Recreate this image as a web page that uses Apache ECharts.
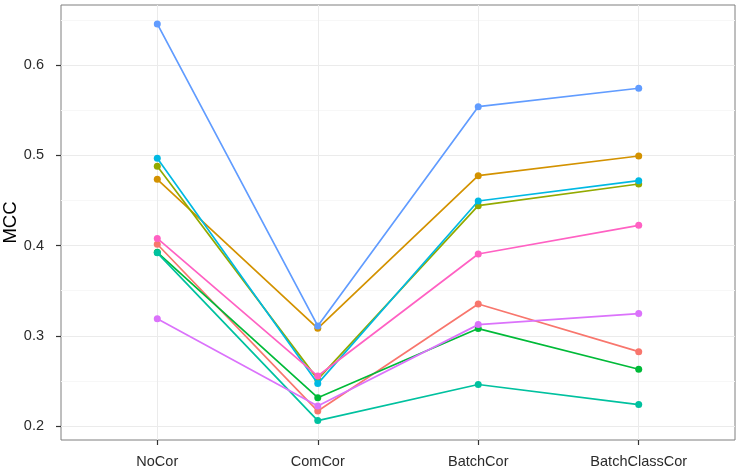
<!DOCTYPE html>
<html><head><meta charset="utf-8">
<script src="https://cdn.jsdelivr.net/npm/echarts@6/dist/echarts.min.js"></script>
<style>html,body{margin:0;padding:0;background:#fff}#c{width:741px;height:472px}</style>
</head><body><div id="c"></div>
<script>
const categories = ["NoCor", "ComCor", "BatchCor", "BatchClassCor"];
const yTicks = [0.2, 0.3, 0.4, 0.5, 0.6];
const yMinorTicks = [0.25, 0.35, 0.45, 0.55, 0.65];
const s1 = [0.4015, 0.2166, 0.3353, 0.2824];
const s2 = [0.4735, 0.3083, 0.4775, 0.4993];
const s3 = [0.4880, 0.2517, 0.4443, 0.4683];
const s4 = [0.3925, 0.2314, 0.3080, 0.2629];
const s5 = [0.3920, 0.2060, 0.2460, 0.2238];
const s6 = [0.4968, 0.2470, 0.4494, 0.4720];
const s7 = [0.6457, 0.3110, 0.5540, 0.5744];
const s8 = [0.3190, 0.2222, 0.3124, 0.3246];
const s9 = [0.4080, 0.2554, 0.3907, 0.4225];
const colors = ["#F8766D","#D39200","#93AA00","#00BA38","#00C19F","#00B9E3","#619CFF","#DB72FB","#FF61C3"];
const allSeries = [s1,s2,s3,s4,s5,s6,s7,s8,s9];

const chart = echarts.init(document.getElementById('c'), null, {renderer:'canvas'});
const font = 'Liberation Sans, Arial, sans-serif';
const catIdx = categories.map((c,i)=>i);
chart.setOption({
  animation:false,
  grid:{left:61, top:5, right:6, bottom:32, show:true, borderColor:'#7f7f7f', borderWidth:1, backgroundColor:'#fff', containLabel:false, outerBoundsMode:'none'},
  xAxis:{type:'value', min:-0.6, max:3.6,
    axisLine:{show:false, onZero:false},
    axisTick:{show:true, customValues:catIdx, length:5, lineStyle:{color:'#333', width:1.2}},
    axisLabel:{customValues:catIdx, formatter:v=>categories[Math.round(v)], color:'#2b2b2b', fontSize:14.5, fontFamily:font, margin:14},
    splitLine:{show:true, lineStyle:{color:'#ebebeb', width:1}}
  },
  yAxis:[{type:'value', min:0.1845, max:0.6667, name:'MCC', nameLocation:'middle', nameGap:41, nameMoveOverlap:false,
    nameTextStyle:{fontSize:18.5, color:'#000', fontFamily:font},
    axisLine:{show:false, onZero:false},
    axisTick:{show:true, customValues:yTicks, length:5, lineStyle:{color:'#333', width:1.2}},
    axisLabel:{customValues:yTicks, formatter:v=>v.toFixed(1), color:'#2b2b2b', fontSize:14.5, fontFamily:font, margin:17},
    splitLine:{show:true, lineStyle:{color:'#ebebeb', width:1}}
  },{type:'value', min:0.1845, max:0.6667, position:'left',
    axisLine:{show:false, onZero:false}, axisLabel:{show:false},
    axisTick:{show:false, customValues:yMinorTicks},
    splitLine:{show:true, lineStyle:{color:'#f7f7f7', width:1}}
  }],
  series: allSeries.map((s,k)=>({
    type:'line', yAxisIndex:0,
    data:s.map((v,i)=>[i,v]),
    symbol:'circle', symbolSize:7,
    lineStyle:{color:colors[k], width:1.7},
    itemStyle:{color:colors[k]},
    z:2+k
  }))
});
</script></body></html>
